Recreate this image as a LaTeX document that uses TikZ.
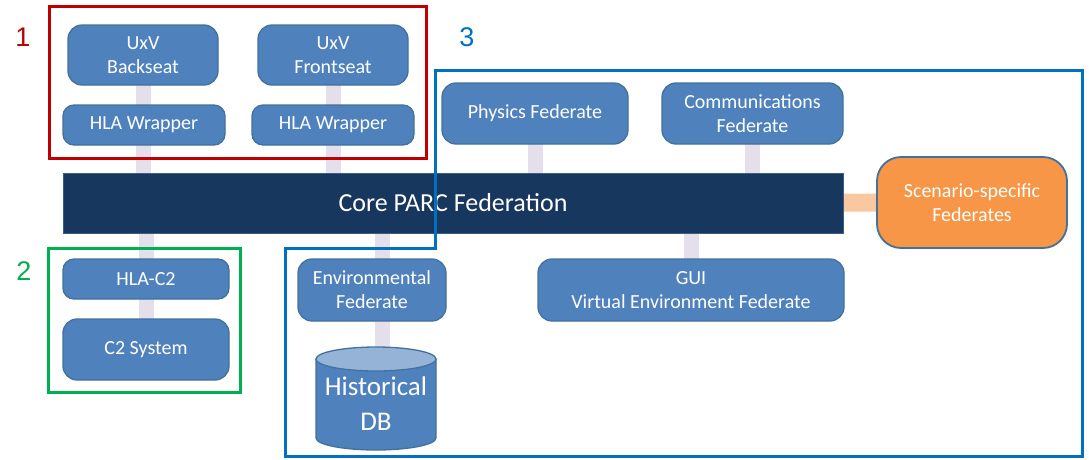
\documentclass[tikz,border=0pt]{standalone}
\usepackage{fontspec}
\setmainfont{Carlito}
\newfontfamily\digitfont{Liberation Sans}
\usetikzlibrary{backgrounds}

\definecolor{fedfill}{HTML}{4F81BD}
\definecolor{fedline}{HTML}{41719C}
\definecolor{dbtop}{HTML}{95B3D7}
\definecolor{corebar}{HTML}{17375E}
\definecolor{linkpale}{HTML}{E5DFEC}
\definecolor{linkorange}{HTML}{FAC8A0}
\definecolor{scenfill}{HTML}{F79646}
\definecolor{grpred}{HTML}{C00000}
\definecolor{grpgreen}{HTML}{00B050}
\definecolor{grpblue}{HTML}{0070C0}

\tikzset{
  fed/.style={draw=fedline, line width=1.3pt, fill=fedfill, rounded corners=14pt,
    text=white, align=center, inner sep=0pt,
    font=\fontsize{20}{24}\selectfont},
  scenario/.style={fed, fill=scenfill, line width=1.8pt, rounded corners=24pt},
  core/.style={draw=fedline!70!corebar, line width=1pt, fill=corebar, text=white,
    inner sep=0pt, font=\fontsize{26}{30}\selectfont},
  link/.style={draw=linkpale, line width=15pt},
  orangelink/.style={draw=linkorange, line width=18pt},
  group/.style={line width=3pt},
  grplabel/.style={font=\digitfont\fontsize{27}{30}\selectfont},
}

\begin{document}
\begin{tikzpicture}[x=1pt, y=-1pt]
\useasboundingbox (0,0) rectangle (1089,459);

% federates
\node[fed, minimum width=150pt, minimum height=60pt] (bs) at (143,55) {UxV\\Backseat};
\node[fed, minimum width=150pt, minimum height=60pt] (fs) at (333,55) {UxV\\Frontseat};
\node[fed, rounded corners=11pt, minimum width=162pt, minimum height=40pt] (hw1) at (144,125) {HLA Wrapper};
\node[fed, rounded corners=11pt, minimum width=162pt, minimum height=40pt] (hw2) at (333,125) {HLA Wrapper};
\node[fed, minimum width=186pt, minimum height=61pt] (phys) at (535,113.5) {Physics Federate};
\node[fed, minimum width=181pt, minimum height=61pt] (comm) at (752.5,113.5) {Communications\\Federate};

\node[core, minimum width=780pt, minimum height=60pt] (bar) at (453,203) {Core PARC Federation};

\node[scenario, minimum width=190pt, minimum height=91pt] (scen) at (972,202.5) {Scenario-specific\\Federates};

\node[fed, rounded corners=11pt, minimum width=166pt, minimum height=40pt] (hc2) at (146,279) {HLA-C2};
\node[fed, minimum width=166pt, minimum height=61pt] (c2) at (146,349.5) {C2 System};
\node[fed, minimum width=148pt, minimum height=62pt] (env) at (372,290) {Environmental\\Federate};
\node[fed, minimum width=306pt, minimum height=62pt] (gui) at (691,290) {GUI\\Virtual Environment Federate};

% historical database cylinder
\fill[fedfill, draw=fedline, line width=1.3pt]
  (316,359) -- (316,438) arc[start angle=180, end angle=360, x radius=60, y radius=-12]
  -- (436,359) -- cycle;
\filldraw[fill=dbtop, draw=fedline, line width=1.3pt] (376,359) ellipse[x radius=60, y radius=12];
\node[text=white, align=center, inner sep=0pt, font=\fontsize{27}{35}\selectfont] (db) at (376,404) {Historical\\DB};
\coordinate (envlink) at (382,0);

% links between federates and the federation
\begin{scope}[on background layer]
  \draw[link] (bs.center) -- (bs.center |- bar.center);
  \draw[link] (fs.center) -- (fs.center |- bar.center);
  \draw[link] (phys.center) -- (phys.center |- bar.center);
  \draw[link] (comm.center) -- (comm.center |- bar.center);
  \draw[link] (bar.center -| hc2.center) -- (c2.center);
  \draw[link] (envlink |- bar.center) -- (envlink |- db.center);
  \draw[link] (bar.center -| gui.center) -- (gui.center);
  \draw[orangelink] (bar.center) -- (scen.center);
\end{scope}

% groupings
\draw[group, grpred] (49,6) rectangle (426,158);
\draw[group, grpgreen] (48,248) rectangle (240,392);
\draw[group, grpblue] (435,70) -- (1082,70) -- (1082,456) -- (285,456) -- (285,248) -- (435,248) -- cycle;

\node[grplabel, text=grpred] (l1) at (23,37) {1};
\node[grplabel, text=grpgreen] (l2) at (24,271) {2};
\node[grplabel, text=grpblue] (l3) at (467,37) {3};
\end{tikzpicture}
\end{document}
